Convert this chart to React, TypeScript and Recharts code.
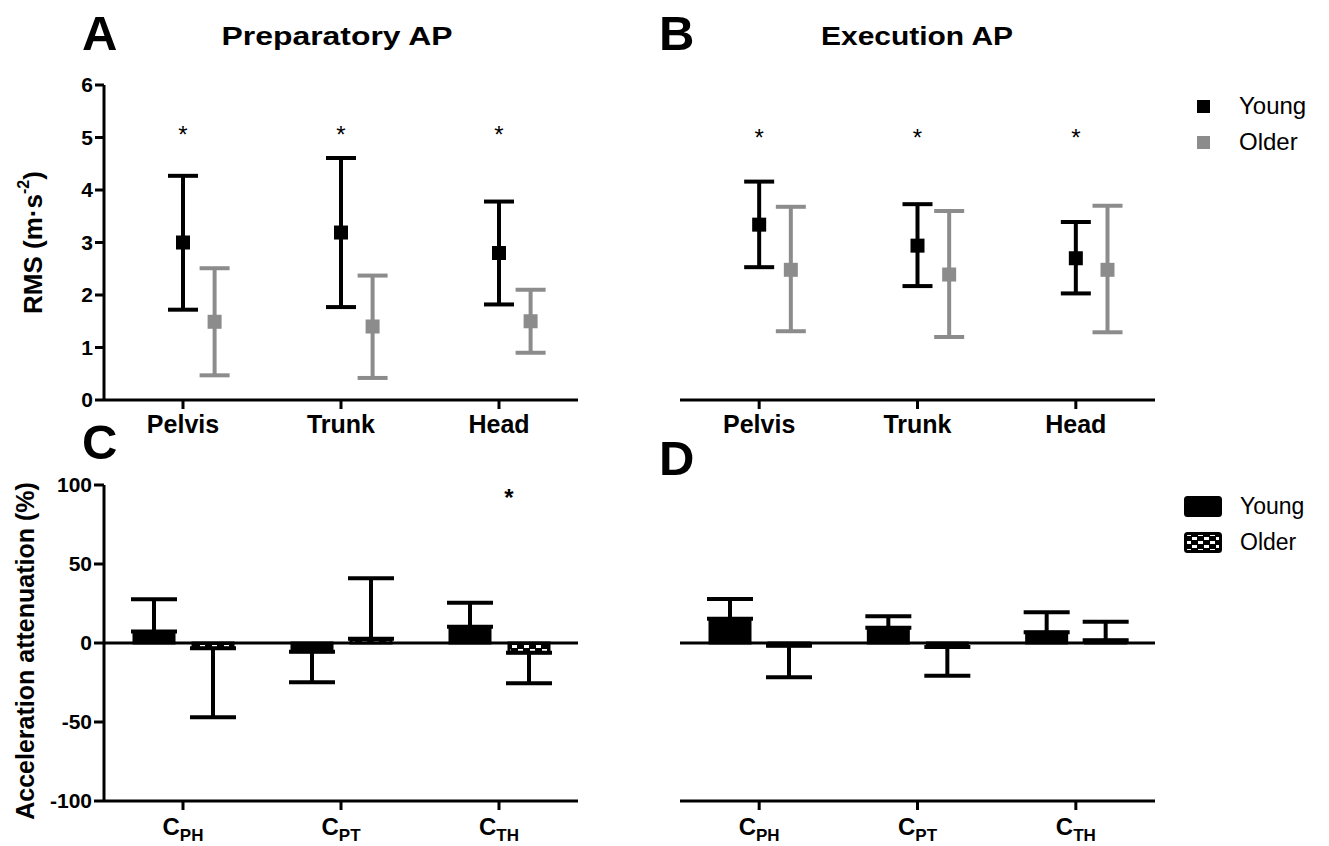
import {
  ScatterChart,
  Scatter,
  BarChart,
  Bar,
  XAxis,
  YAxis,
  ErrorBar,
  ReferenceDot,
  ReferenceLine,
  Legend,
} from "recharts";

const FONT = "'Liberation Sans', Arial, Helvetica, sans-serif";
const GREY = "#8c8c8c";

// RMS panels (A, B)
const regions = ["Pelvis", "Trunk", "Head"];
const groups = ["Young", "Older"];
const rmsTicks = [0, 1, 2, 3, 4, 5, 6];

const prepYoungMean = [3.0, 3.19, 2.8];
const prepYoungLow = [1.72, 1.77, 1.82];
const prepYoungHigh = [4.27, 4.61, 3.78];
const prepOlderMean = [1.49, 1.4, 1.5];
const prepOlderLow = [0.47, 0.42, 0.9];
const prepOlderHigh = [2.51, 2.37, 2.1];
const prepSig = [true, true, true];
const prepSigLevel = 5.15;

const execYoungMean = [3.34, 2.94, 2.7];
const execYoungLow = [2.53, 2.17, 2.03];
const execYoungHigh = [4.16, 3.73, 3.39];
const execOlderMean = [2.48, 2.39, 2.48];
const execOlderLow = [1.31, 1.2, 1.29];
const execOlderHigh = [3.68, 3.6, 3.7];
const execSig = [true, true, true];
const execSigLevel = 5.08;

// attenuation panels (C, D)
const pairs = ["PH", "PT", "TH"];
const attTicks = [-100, -50, 0, 50, 100];

const prepAttYoung = [7.2, -5.5, 10.3];
const prepAttYoungSd = [20.5, 19.4, 15.2];
const prepAttOlder = [-3.4, 2.7, -6.1];
const prepAttOlderSd = [43.6, 38.3, 19.4];
const prepAttSig = [false, false, true];
const prepAttSigLevel = 95;

const execAttYoung = [15.4, 9.7, 6.8];
const execAttYoungSd = [12.4, 7.2, 12.6];
const execAttOlder = [-1.7, -2.6, 1.7];
const execAttOlderSd = [20.0, 18.1, 11.8];
const execAttSig = [false, false, false];

const OLDER_SHIFT = 0.2;

function toPoints(mean: number[], low: number[], high: number[], shift: number) {
  return mean.map((m, i) => ({
    x: i + 0.5 + shift,
    y: m,
    err: [m - low[i], high[i] - m],
  }));
}

function oneSided(mean: number, sd: number) {
  return mean >= 0 ? [0, sd] : [sd, 0];
}

function toBars(young: number[], youngSd: number[], older: number[], olderSd: number[]) {
  return pairs.map((p, i) => ({
    pair: p,
    young: young[i],
    youngErr: oneSided(young[i], youngSd[i]),
    older: older[i],
    olderErr: oneSided(older[i], olderSd[i]),
  }));
}

const square = (fill: string) => (p: any) => (
  <rect x={p.cx - 7} y={p.cy - 7} width={14} height={14} fill={fill} />
);

const asterisk = (dx: number, weight: number) => (p: any) => (
  <text
    x={p.cx + dx}
    y={p.cy + 13}
    textAnchor="middle"
    fontSize={24}
    fontWeight={weight}
    fontFamily={FONT}
    fill="#000"
  >
    *
  </text>
);

const axisStroke = { stroke: "#000", strokeWidth: 3 };

function legendItems(payload: any[] | undefined) {
  return (payload || [])
    .filter((e: any) => e.type !== "none")
    .sort((a: any, b: any) => groups.indexOf(a.value) - groups.indexOf(b.value));
}

function RmsLabel(props: any) {
  const vb = props.viewBox;
  const cx = vb.x + 33;
  const cy = vb.y + vb.height / 2;
  return (
    <text
      x={cx}
      y={cy}
      transform={`rotate(-90, ${cx}, ${cy})`}
      textAnchor="middle"
      dominantBaseline="central"
      fontSize={26}
      fontWeight={700}
      fontFamily={FONT}
      fill="#000"
    >
      <tspan>RMS (m·s</tspan>
      <tspan fontSize={16} dy={-10}>-2</tspan>
      <tspan dy={10}>)</tspan>
    </text>
  );
}

function AttLabel(props: any) {
  const vb = props.viewBox;
  const cx = vb.x + 25;
  const cy = vb.y + vb.height / 2 + 8;
  return (
    <text
      x={cx}
      y={cy}
      transform={`rotate(-90, ${cx}, ${cy})`}
      textAnchor="middle"
      dominantBaseline="central"
      fontSize={25}
      fontWeight={700}
      fontFamily={FONT}
      fill="#000"
    >
      Acceleration attenuation (%)
    </text>
  );
}

function PairTick(props: any) {
  const { x, y, payload } = props;
  return (
    <text x={x} y={y + 25} textAnchor="middle" fontFamily={FONT} fontWeight={700} fill="#000">
      <tspan fontSize={24}>C</tspan>
      <tspan fontSize={17} dy={6}>
        {payload.value}
      </tspan>
    </text>
  );
}

function ScatterLegend(props: any) {
  return (
    <div style={{ fontFamily: FONT, fontSize: 24, color: "#000" }}>
      {legendItems(props.payload).map((e: any) => (
        <div key={e.value} style={{ display: "flex", alignItems: "center", height: 36 }}>
          <span style={{ width: 13, height: 13, background: e.color, marginRight: 29 }} />
          <span>{e.value}</span>
        </div>
      ))}
    </div>
  );
}

function BarLegend(props: any) {
  return (
    <div style={{ fontFamily: FONT, fontSize: 23, color: "#000" }}>
      {legendItems(props.payload).map((e: any) => (
        <div key={e.value} style={{ display: "flex", alignItems: "center", height: 35.5 }}>
          <svg width={38} height={21} style={{ marginRight: 18 }}>
            <rect x={1.5} y={1.5} width={35} height={18} rx={2} fill={e.color} stroke="#000" strokeWidth={3} />
          </svg>
          <span>{e.value}</span>
        </div>
      ))}
    </div>
  );
}

function RmsPanel(props: {
  left: number;
  width: number;
  margin: { top: number; right: number; bottom: number; left: number };
  youngMean: number[];
  youngLow: number[];
  youngHigh: number[];
  olderMean: number[];
  olderLow: number[];
  olderHigh: number[];
  sig: boolean[];
  sigLevel: number;
  showAxis: boolean;
  showLegend: boolean;
}) {
  const young = toPoints(props.youngMean, props.youngLow, props.youngHigh, 0);
  const older = toPoints(props.olderMean, props.olderLow, props.olderHigh, OLDER_SHIFT);
  return (
    <div style={{ position: "absolute", left: props.left, top: 0 }}>
      <ScatterChart width={props.width} height={440} margin={props.margin}>
        <XAxis
          type="number"
          dataKey="x"
          domain={[0, 3]}
          ticks={[0.5, 1.5, 2.5]}
          interval={0}
          tickFormatter={(v: number) => regions[Math.floor(v)]}
          height={30}
          tickSize={9}
          tickMargin={6}
          axisLine={axisStroke}
          tickLine={axisStroke}
          tick={{ fill: "#000", fontSize: 25, fontWeight: 700, fontFamily: FONT }}
        />
        <YAxis
          type="number"
          dataKey="y"
          domain={[0, 6]}
          ticks={rmsTicks}
          interval={0}
          hide={!props.showAxis}
          width={104}
          tickSize={9}
          tickMargin={2}
          axisLine={axisStroke}
          tickLine={axisStroke}
          tick={{ fill: "#000", fontSize: 21, fontWeight: 700, fontFamily: FONT }}
          label={RmsLabel}
        />
        <Scatter name="Young" data={young} fill="#000" shape={square("#000")} isAnimationActive={false}>
          <ErrorBar dataKey="err" direction="y" width={15} strokeWidth={4} stroke="#000" />
        </Scatter>
        <Scatter name="Older" data={older} fill={GREY} shape={square(GREY)} isAnimationActive={false}>
          <ErrorBar dataKey="err" direction="y" width={15} strokeWidth={4} stroke={GREY} />
        </Scatter>
        {props.sig.map((s, i) =>
          s ? <ReferenceDot key={i} x={i + 0.5} y={props.sigLevel} shape={asterisk(0, 400)} /> : null
        )}
        {props.showLegend && (
          <Legend
            layout="vertical"
            align="center"
            verticalAlign="middle"
            wrapperStyle={{ left: 577, top: 88, width: 140 }}
            content={ScatterLegend}
          />
        )}
      </ScatterChart>
    </div>
  );
}

function AttPanel(props: {
  left: number;
  width: number;
  margin: { top: number; right: number; bottom: number; left: number };
  young: number[];
  youngSd: number[];
  older: number[];
  olderSd: number[];
  sig: boolean[];
  sigLevel: number;
  showAxis: boolean;
  showLegend: boolean;
  patternId: string;
}) {
  const data = toBars(props.young, props.youngSd, props.older, props.olderSd);
  return (
    <div style={{ position: "absolute", left: props.left, top: 440 }}>
      <BarChart width={props.width} height={406} margin={props.margin} data={data} barSize={40} barGap={19}>
        <defs>
          <pattern id={props.patternId} width={12} height={8} patternUnits="userSpaceOnUse">
            <rect width={12} height={8} fill="#000" />
            <rect x={2} y={1} width={5} height={3} fill="#fff" />
            <rect x={8} y={5} width={4} height={3} fill="#fff" />
            <rect x={0} y={5} width={1} height={3} fill="#fff" />
          </pattern>
        </defs>
        <XAxis
          dataKey="pair"
          interval={0}
          height={40}
          tickSize={9}
          tickMargin={0}
          axisLine={axisStroke}
          tickLine={axisStroke}
          tick={<PairTick />}
        />
        <YAxis
          type="number"
          domain={[-100, 100]}
          ticks={attTicks}
          interval={0}
          hide={!props.showAxis}
          width={104}
          tickSize={10}
          tickMargin={2}
          axisLine={axisStroke}
          tickLine={axisStroke}
          tick={{ fill: "#000", fontSize: 21, fontWeight: 700, fontFamily: FONT }}
          label={AttLabel}
        />
        <Bar dataKey="young" name="Young" fill="#000" stroke="#000" strokeWidth={3} isAnimationActive={false}>
          <ErrorBar dataKey="youngErr" direction="y" width={23} strokeWidth={4} stroke="#000" />
        </Bar>
        <Bar
          dataKey="older"
          name="Older"
          fill={`url(#${props.patternId})`}
          stroke="#000"
          strokeWidth={3}
          isAnimationActive={false}
        >
          <ErrorBar dataKey="olderErr" direction="y" width={23} strokeWidth={4} stroke="#000" />
        </Bar>
        <ReferenceLine y={0} stroke="#000" strokeWidth={3} />
        {props.sig.map((s, i) =>
          s ? <ReferenceDot key={i} x={pairs[i]} y={props.sigLevel} shape={asterisk(10, 700)} /> : null
        )}
        {props.showLegend && (
          <Legend
            layout="vertical"
            align="center"
            verticalAlign="middle"
            wrapperStyle={{ left: 564, top: 49, width: 150 }}
            content={BarLegend}
          />
        )}
      </BarChart>
    </div>
  );
}

export default function App() {
  return (
    <div
      style={{
        position: "absolute",
        left: 0,
        top: 0,
        width: 1329,
        height: 846,
        background: "#fff",
        overflow: "hidden",
      }}
    >
      <RmsPanel
        left={0}
        width={600}
        margin={{ top: 85, right: 22, bottom: 10, left: 0 }}
        youngMean={prepYoungMean}
        youngLow={prepYoungLow}
        youngHigh={prepYoungHigh}
        olderMean={prepOlderMean}
        olderLow={prepOlderLow}
        olderHigh={prepOlderHigh}
        sig={prepSig}
        sigLevel={prepSigLevel}
        showAxis
        showLegend={false}
      />
      <RmsPanel
        left={620}
        width={709}
        margin={{ top: 85, right: 174, bottom: 10, left: 60 }}
        youngMean={execYoungMean}
        youngLow={execYoungLow}
        youngHigh={execYoungHigh}
        olderMean={execOlderMean}
        olderLow={execOlderLow}
        olderHigh={execOlderHigh}
        sig={execSig}
        sigLevel={execSigLevel}
        showAxis={false}
        showLegend
      />
      <AttPanel
        left={0}
        width={600}
        margin={{ top: 45, right: 22, bottom: 5, left: 0 }}
        young={prepAttYoung}
        youngSd={prepAttYoungSd}
        older={prepAttOlder}
        olderSd={prepAttOlderSd}
        sig={prepAttSig}
        sigLevel={prepAttSigLevel}
        showAxis
        showLegend={false}
        patternId="checkerC"
      />
      <AttPanel
        left={620}
        width={709}
        margin={{ top: 45, right: 174, bottom: 5, left: 60 }}
        young={execAttYoung}
        youngSd={execAttYoungSd}
        older={execAttOlder}
        olderSd={execAttOlderSd}
        sig={execAttSig}
        sigLevel={prepAttSigLevel}
        showAxis={false}
        showLegend
        patternId="checkerD"
      />
      <svg
        width={1329}
        height={846}
        style={{ position: "absolute", left: 0, top: 0, pointerEvents: "none" }}
        fontFamily={FONT}
        fontWeight={700}
        fill="#000"
      >
        <text x={82} y={50} fontSize={49}>A</text>
        <text x={337} y={45} fontSize={25} textAnchor="middle" textLength={231} lengthAdjust="spacingAndGlyphs">
          Preparatory AP
        </text>
        <text x={659} y={50} fontSize={49}>B</text>
        <text x={917} y={45} fontSize={25} textAnchor="middle" textLength={192} lengthAdjust="spacingAndGlyphs">
          Execution AP
        </text>
        <text x={82} y={459} fontSize={49}>C</text>
        <text x={659} y={475} fontSize={49}>D</text>
      </svg>
    </div>
  );
}
